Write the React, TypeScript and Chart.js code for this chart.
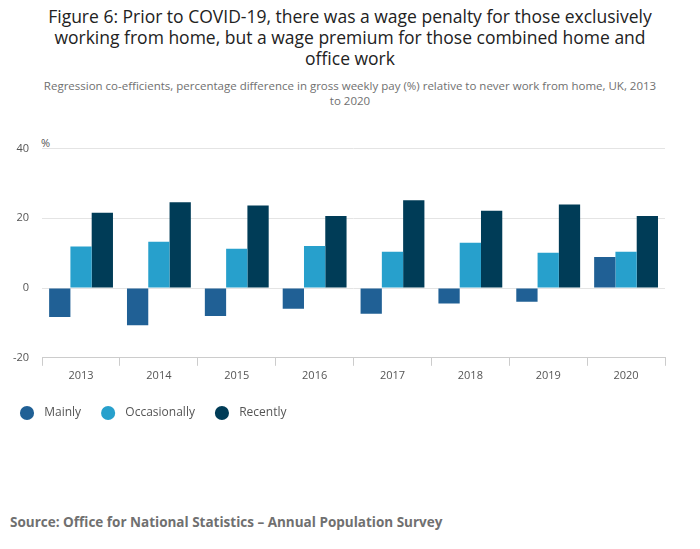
import React, { useEffect, useRef } from "react";
import { Chart, registerables } from "chart.js";
Chart.register(...registerables);

const years = ["2013", "2014", "2015", "2016", "2017", "2018", "2019", "2020"];
const mainly = [-8.3, -10.7, -8.0, -5.9, -7.4, -4.4, -3.9, 8.9];
const occasionally = [11.9, 13.3, 11.3, 12.1, 10.4, 13.0, 10.1, 10.4];
const recently = [21.6, 24.6, 23.7, 20.7, 25.2, 22.2, 24.0, 20.7];
const yTicks = [-20, 0, 20, 40];

export default function App() {
  const ref = useRef<HTMLCanvasElement>(null);
  useEffect(() => {
    document.body.style.margin = "0";
    const chart = new Chart(ref.current!, {
      type: "bar",
      data: {
        labels: years,
        datasets: [
          { label: "Mainly", data: mainly, backgroundColor: "#206095" },
          { label: "Occasionally", data: occasionally, backgroundColor: "#27a0cc" },
          { label: "Recently", data: recently, backgroundColor: "#003c57" },
        ],
      },
      options: {
        animation: false,
        responsive: false,
        maintainAspectRatio: false,
        datasets: { bar: { categoryPercentage: 0.82, barPercentage: 1 } },
        layout: { padding: { left: 0, right: 35, top: 16, bottom: 0 } },
        plugins: {
          tooltip: { enabled: false },
          legend: {
            position: "bottom",
            align: "start",
            labels: {
              usePointStyle: true,
              pointStyle: "circle",
              boxWidth: 10,
              boxHeight: 10,
              padding: 22,
              color: "#555",
              font: { family: "Open Sans", size: 12 },
              generateLabels: (c: any) => {
                const items = Chart.defaults.plugins.legend.labels.generateLabels(c);
                items.forEach((it: any) => { it.text = "  " + it.text; });
                return items;
              },
            },
          },
        },
        scales: {
          x: {
            grid: { display: true, drawOnChartArea: false, offset: true, color: "#ccc", tickLength: 8 },
            border: { color: "#ccc" },
            ticks: { color: "#555", font: { family: "Open Sans", size: 11 } },
          },
          y: {
            min: -20,
            max: 40,
            afterBuildTicks: (ax: any) => { ax.ticks = yTicks.map((v) => ({ value: v })); },
            grid: { color: "#e4e4e4", drawTicks: false },
            border: { display: false },
            ticks: { color: "#555", padding: 13, font: { family: "Open Sans", size: 11 } },
          },
        },
      },
    });
    return () => chart.destroy();
  }, []);
  return (
    <div style={{ position: "relative", width: 700, height: 549, fontFamily: "Open Sans", background: "#fff" }}>
      <div style={{ position: "absolute", top: 6, left: 30, width: 640, textAlign: "center", fontSize: 17.5, lineHeight: "21px", color: "#222" }}>
        Figure 6: Prior to COVID-19, there was a wage penalty for those exclusively working from home, but a wage premium for those combined home and office work
      </div>
      <div style={{ position: "absolute", top: 78, left: 40, width: 620, textAlign: "center", fontSize: 11.5, lineHeight: "15px", color: "#707070" }}>
        Regression co-efficients, percentage difference in gross weekly pay (%) relative to never work from home, UK, 2013 to 2020
      </div>
      <div style={{ position: "absolute", top: 135, left: 41, fontSize: 11, color: "#555" }}>%</div>
      <canvas ref={ref} width={700} height={300} style={{ position: "absolute", top: 129, left: 0 }} />
      <div style={{ position: "absolute", top: 513, left: 10, fontSize: 13.5, fontWeight: "bold", color: "#707070" }}>
        Source: Office for National Statistics – Annual Population Survey
      </div>
    </div>
  );
}
